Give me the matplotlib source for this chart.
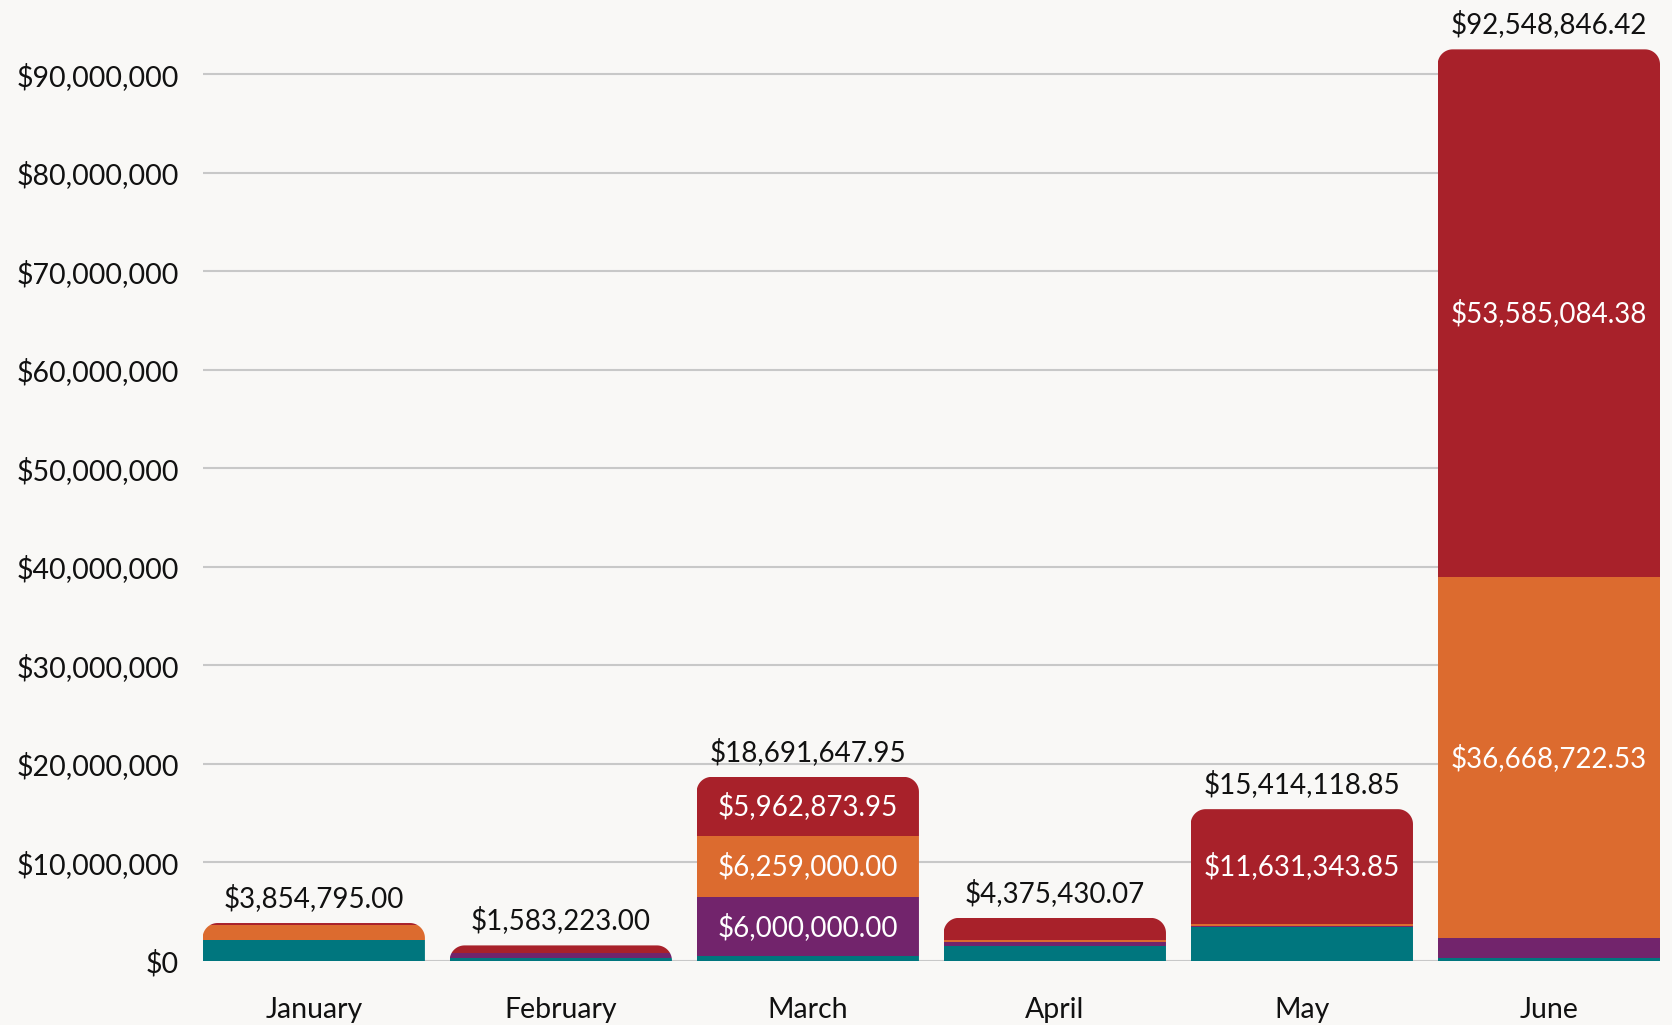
import numpy as np
import matplotlib
matplotlib.use("Agg")
import matplotlib.pyplot as plt
from matplotlib.path import Path
from matplotlib.patches import PathPatch

months = ["January", "February", "March", "April", "May", "June"]
teal = [2100000.00, 350000.00, 469774.00, 1550000.00, 3500000.00, 300000.00]
purple = [0.00, 450000.00, 6000000.00, 400000.00, 50000.00, 1995039.51]
orange = [1550000.00, 0.00, 6259000.00, 170000.00, 232775.00, 36668722.53]
red = [204795.00, 783223.00, 5962873.95, 2255430.07, 11631343.85, 53585084.38]
totals = [3854795.00, 1583223.00, 18691647.95, 4375430.07, 15414118.85, 92548846.42]
yticks = [0, 10e6, 20e6, 30e6, 40e6, 50e6, 60e6, 70e6, 80e6, 90e6]

series = [teal, purple, orange, red]
colors = ["#00767e", "#72246c", "#dc6b2f", "#a8212a"]
BG = "#f9f8f6"

plt.rcParams['font.family'] = ['Lato', 'DejaVu Sans']
W, H, DPI = 1672, 1025, 100
fig = plt.figure(figsize=(W / DPI, H / DPI), dpi=DPI, facecolor=BG)
left_px, right_px, bottom_px, top_px = 202.6, 1660, 961, 0
ax = fig.add_axes([left_px / W, 1 - bottom_px / H, (right_px - left_px) / W, (bottom_px - top_px) / H])
ax.set_facecolor(BG)

x = np.arange(len(months))
width = 0.9
ax.set_xlim(-0.45, len(months) - 0.55)
ymax = 97.56e6
ax.set_ylim(0, ymax)

# pixel -> data conversions for rounded corners
ax_w_px = right_px - left_px
ax_h_px = bottom_px - top_px
px_x = (len(months) - 0.1) / ax_w_px
px_y = ymax / ax_h_px
r_px = 15
rx, ry = r_px * px_x, r_px * px_y

bottom = np.zeros(len(months))
bar_groups = []
for vals, c in zip(series, colors):
    bars = ax.bar(x, vals, width, bottom=bottom, color=c, linewidth=0, zorder=3)
    bar_groups.append((bars, np.array(vals), bottom.copy()))
    bottom = bottom + np.array(vals)

# rounded-top clip paths per column
for i in range(len(months)):
    x0, x1 = x[i] - width / 2, x[i] + width / 2
    top = totals[i]
    ryy = min(ry, top)
    verts = [(x0, -ymax * 0.05), (x0, top - ryy)]
    t = np.linspace(np.pi, np.pi / 2, 20)
    verts += [(x0 + rx + rx * np.cos(a), top - ryy + ryy * np.sin(a)) for a in t]
    t = np.linspace(np.pi / 2, 0, 20)
    verts += [(x1 - rx + rx * np.cos(a), top - ryy + ryy * np.sin(a)) for a in t]
    verts += [(x1, -ymax * 0.05), (x0, -ymax * 0.05)]
    path = Path(verts)
    clip = PathPatch(path, transform=ax.transData, facecolor='none', edgecolor='none')
    ax.add_patch(clip)
    clip.set_visible(False)
    for bars, _, _ in bar_groups:
        bars[i].set_clip_path(clip)

# inner labels
for bars, vals, bots in bar_groups:
    for i, v in enumerate(vals):
        if v > 5e6:
            ax.text(x[i], bots[i] + v / 2, f"${v:,.2f}", ha='center', va='center',
                    color='white', fontsize=20, zorder=5)

# total labels
for i, t in enumerate(totals):
    ax.annotate(f"${t:,.2f}", (x[i], t), xytext=(0, 8), textcoords='offset points',
                ha='center', va='bottom', fontsize=20, color='#111111', zorder=5)

ax.set_yticks(yticks)
ax.set_yticklabels([f"${v:,.0f}" for v in yticks])
ax.set_xticks(x)
ax.set_xticklabels(months)
ax.tick_params(axis='both', length=0, labelsize=20.5, colors='#111111')
ax.tick_params(axis='y', pad=17)
ax.tick_params(axis='x', pad=26)
ax.grid(axis='y', color='#c8c8c8', linewidth=1.5, zorder=0)
ax.set_axisbelow(True)
for s in ax.spines.values():
    s.set_visible(False)

fig.savefig("out.png", dpi=DPI, facecolor=BG)
